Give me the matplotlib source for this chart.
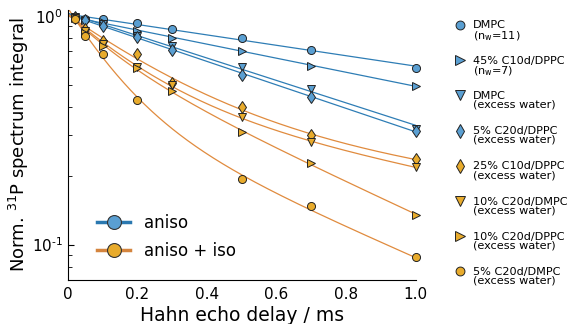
import numpy as np
import matplotlib
matplotlib.use("Agg")
import matplotlib.pyplot as plt
from matplotlib.lines import Line2D

# echo delays (ms)
t = np.array([0.02, 0.05, 0.1, 0.2, 0.3, 0.5, 0.7, 1.0])

labels = ["DMPC\n(n$_\\mathregular{w}$=11)",
          "45% C10d/DPPC\n(n$_\\mathregular{w}$=7)",
          "DMPC\n(excess water)",
          "5% C20d/DPPC\n(excess water)",
          "25% C10d/DPPC\n(excess water)",
          "10% C20d/DMPC\n(excess water)",
          "10% C20d/DPPC\n(excess water)",
          "5% C20d/DMPC\n(excess water)"]
markers = ["o", ">", "v", "d", "d", "v", ">", "o"]
kinds = ["aniso"] * 4 + ["aniso + iso"] * 4

dmpc_nw11 = [0.99, 0.97, 0.97, 0.93, 0.88, 0.80, 0.71, 0.59]
c10d45_nw7 = [0.99, 0.96, 0.94, 0.86, 0.80, 0.70, 0.605, 0.495]
dmpc_excess = [0.99, 0.95, 0.92, 0.82, 0.74, 0.60, 0.48, 0.32]
c20d5_dppc = [0.99, 0.96, 0.90, 0.81, 0.71, 0.55, 0.44, 0.315]
c10d25_dppc = [0.98, 0.88, 0.78, 0.68, 0.51, 0.40, 0.30, 0.236]
c20d10_dmpc = [0.98, 0.86, 0.755, 0.60, 0.50, 0.36, 0.28, 0.218]
c20d10_dppc = [0.98, 0.84, 0.74, 0.59, 0.47, 0.31, 0.227, 0.135]
c20d5_dmpc = [0.97, 0.82, 0.68, 0.43, np.nan, 0.194, 0.148, 0.088]

series = [dmpc_nw11, c10d45_nw7, dmpc_excess, c20d5_dppc,
          c10d25_dppc, c20d10_dmpc, c20d10_dppc, c20d5_dmpc]

blue_face, blue_line = "#5a9fd2", "#2e7db5"
orange_face, orange_line = "#e8ab2c", "#e08b3e"
msizes = {"o": 5.8, ">": 6.2, "v": 6.2, "d": 6.5}


def fit_mono(x, y):
    k, b = np.polyfit(x, np.log(y), 1)
    return lambda xx: np.exp(b + k * xx)


def fit_bi(x, y):
    taus = np.logspace(-2, 1, 120)
    best = None
    for i, t1 in enumerate(taus):
        for t2 in taus[i + 1:]:
            A = np.column_stack([np.exp(-x / t1), np.exp(-x / t2)])
            c, *_ = np.linalg.lstsq(A, y, rcond=None)
            if np.any(c < 0):
                continue
            r = np.sum((np.log(A @ c) - np.log(y)) ** 2)
            if best is None or r < best[0]:
                best = (r, t1, t2, c)
    _, t1, t2, c = best
    return lambda xx: c[0] * np.exp(-xx / t1) + c[1] * np.exp(-xx / t2)


W, H = 571, 324
fig = plt.figure(figsize=(W / 100, H / 100), dpi=100)
ax = fig.add_axes([0.119, 0.136, 0.609, 0.833])
xx = np.linspace(0, 1.0, 300)

# sample key on the right: marker beside the first line of each label
key_mx, key_tx, key_top, key_step = 460, 473, 20.5, 35.2

for i, (y, lab, m, kind) in enumerate(zip(series, labels, markers, kinds)):
    y = np.array(y, dtype=float)
    ok = ~np.isnan(y)
    if kind == "aniso":
        f = fit_mono(t[ok], y[ok])
        fc, lc = blue_face, blue_line
    else:
        f = fit_bi(t[ok], y[ok])
        fc, lc = orange_face, orange_line
    ax.plot(xx, f(xx), color=lc, lw=0.9, zorder=2)
    ax.plot(t[ok], y[ok], ls="none", marker=m, ms=msizes[m], mfc=fc,
            mec="#222222", mew=0.7, zorder=3, clip_on=False)

    top = key_top + i * key_step
    fig.add_artist(Line2D([key_mx / W], [1 - (top + 4.5) / H],
                          transform=fig.transFigure, ls="none", marker=m,
                          ms=msizes[m] * 1.1, mfc=fc, mec="#222222", mew=0.7))
    fig.text(key_tx / W, 1 - top / H, lab, fontsize=8.1, va="top",
             ha="left", linespacing=0.84)

ax.set_yscale("log")
ax.set_xlim(0, 1.0)
ax.set_ylim(0.07, 1.06)
ax.set_xticks([0, 0.2, 0.4, 0.6, 0.8, 1.0])
ax.set_xticklabels(["0", "0.2", "0.4", "0.6", "0.8", "1.0"])
ax.set_yticks([0.1, 1.0])
ax.set_yticklabels(["10$^{\\text{-}1}$", "10$^{0}$"])
ax.tick_params(axis="x", length=0, labelsize=11, pad=5)
ax.tick_params(axis="y", which="major", direction="in", length=4, labelsize=11)
ax.tick_params(axis="y", which="minor", direction="in", length=3)
for s in ["top", "right"]:
    ax.spines[s].set_visible(False)
ax.set_xlabel("Hahn echo delay / ms", fontsize=13.5, labelpad=3)
ax.set_ylabel("Norm. $^{31}$P spectrum integral", fontsize=13, labelpad=0.5)

kind_handles = [
    Line2D([], [], color="#2a78b0", lw=2.5, marker="o", ms=10,
           mfc=blue_face, mec="#333333", mew=0.8, label="aniso"),
    Line2D([], [], color="#d4843e", lw=2.5, marker="o", ms=10,
           mfc=orange_face, mec="#333333", mew=0.8, label="aniso + iso"),
]
ax.legend(handles=kind_handles, loc="lower left", bbox_to_anchor=(0.04, 0.02),
          frameon=False, fontsize=12, handlelength=2.0, labelspacing=0.6)

fig.savefig("out.png", dpi=100)
